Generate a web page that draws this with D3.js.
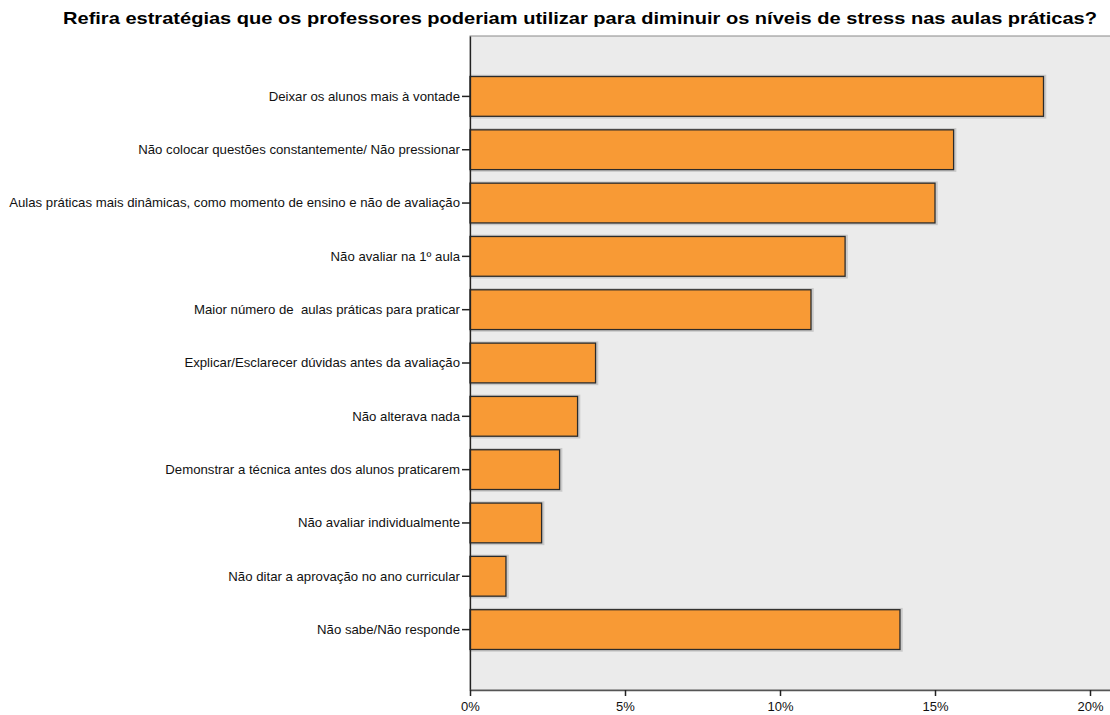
<!DOCTYPE html>
<html>
<head>
<meta charset="utf-8">
<script src="https://cdn.jsdelivr.net/npm/d3@7"></script>
<style>
  html, body { margin: 0; padding: 0; background: #fff; }
  svg { display: block; font-family: "Liberation Sans", Arial, sans-serif; }
  svg text { white-space: pre; }
</style>
</head>
<body>
<svg id="chart" width="1110" height="715"></svg>
<script>
// Answers to the survey question (percentage of respondents)
const categories = [
  "Deixar os alunos mais à vontade",
  "Não colocar questões constantemente/ Não pressionar",
  "Aulas práticas mais dinâmicas, como momento de ensino e não de avaliação",
  "Não avaliar na 1º aula",
  "Maior número de  aulas práticas para praticar",
  "Explicar/Esclarecer dúvidas antes da avaliação",
  "Não alterava nada",
  "Demonstrar a técnica antes dos alunos praticarem",
  "Não avaliar individualmente",
  "Não ditar a aprovação no ano curricular",
  "Não sabe/Não responde"
];
const percentages = [18.5, 15.6, 15.0, 12.1, 11.0, 4.05, 3.47, 2.89, 2.31, 1.16, 13.87];
const xTicks = [0, 5, 10, 15, 20];
const title = "Refira estratégias que os professores poderiam utilizar para diminuir os níveis de stress nas aulas práticas?";

const svg = d3.select("#chart");
const plot = { left: 470, top: 36, right: 1130, bottom: 690 };

const x = d3.scaleLinear().domain([0, 20]).range([plot.left, plot.left + 620]);
const y = d3.scaleBand()
  .domain(categories)
  .range([plot.top, plot.bottom])
  .paddingInner(0.254)
  .paddingOuter(0.76);

// plot background
svg.append("rect")
  .attr("x", plot.left).attr("y", plot.top)
  .attr("width", plot.right - plot.left).attr("height", plot.bottom - plot.top)
  .attr("fill", "#ebebeb")
  .attr("stroke", "#8a8a8a").attr("stroke-width", 1);

// title
svg.append("text")
  .attr("x", 580).attr("y", 24)
  .attr("text-anchor", "middle")
  .attr("font-size", 17).attr("font-weight", "bold")
  .attr("fill", "#000")
  .attr("textLength", 1034)
  .attr("lengthAdjust", "spacingAndGlyphs")
  .text(title);

// soft shadow under each bar
svg.append("g").selectAll("rect")
  .data(categories)
  .join("rect")
  .attr("x", plot.left + 0.5)
  .attr("y", d => y(d) - 0.5)
  .attr("width", (d, i) => x(percentages[i]) - plot.left + 1)
  .attr("height", y.bandwidth() + 1.5)
  .attr("fill", "none")
  .attr("stroke", "#aaa")
  .attr("stroke-opacity", 0.5)
  .attr("stroke-width", 2.5);

// bars
svg.append("g").selectAll("rect")
  .data(categories)
  .join("rect")
  .attr("x", plot.left)
  .attr("y", d => y(d))
  .attr("width", (d, i) => x(percentages[i]) - plot.left)
  .attr("height", y.bandwidth())
  .attr("fill", "#f89a35")
  .attr("stroke", "#2b2b2b")
  .attr("stroke-width", 1.3);

// category axis
const yAxis = svg.append("g")
  .attr("transform", `translate(${plot.left},0)`)
  .call(d3.axisLeft(y).tickSize(8).tickPadding(2).tickSizeOuter(0));
yAxis.select(".domain").attr("stroke", "#222").attr("stroke-width", 1.3);
yAxis.selectAll(".tick line").attr("stroke", "#222").attr("stroke-width", 1.5);
yAxis.selectAll(".tick text")
  .attr("font-size", 13.2).attr("fill", "#111")
  .attr("font-family", "'Liberation Sans', Arial, sans-serif");

// value axis
const xAxis = svg.append("g")
  .attr("transform", `translate(0,${plot.bottom})`)
  .call(d3.axisBottom(x).tickValues(xTicks).tickFormat(d => d + "%").tickSize(6).tickPadding(6).tickSizeOuter(0));
xAxis.select(".domain").attr("stroke", "#555").attr("stroke-width", 1.3)
  .attr("d", `M${plot.left},0.5H${plot.right}`);
xAxis.selectAll(".tick line").attr("stroke", "#222").attr("stroke-width", 1.5);
xAxis.selectAll(".tick text")
  .attr("font-size", 13).attr("fill", "#111")
  .attr("font-family", "'Liberation Sans', Arial, sans-serif");
</script>
</body>
</html>
